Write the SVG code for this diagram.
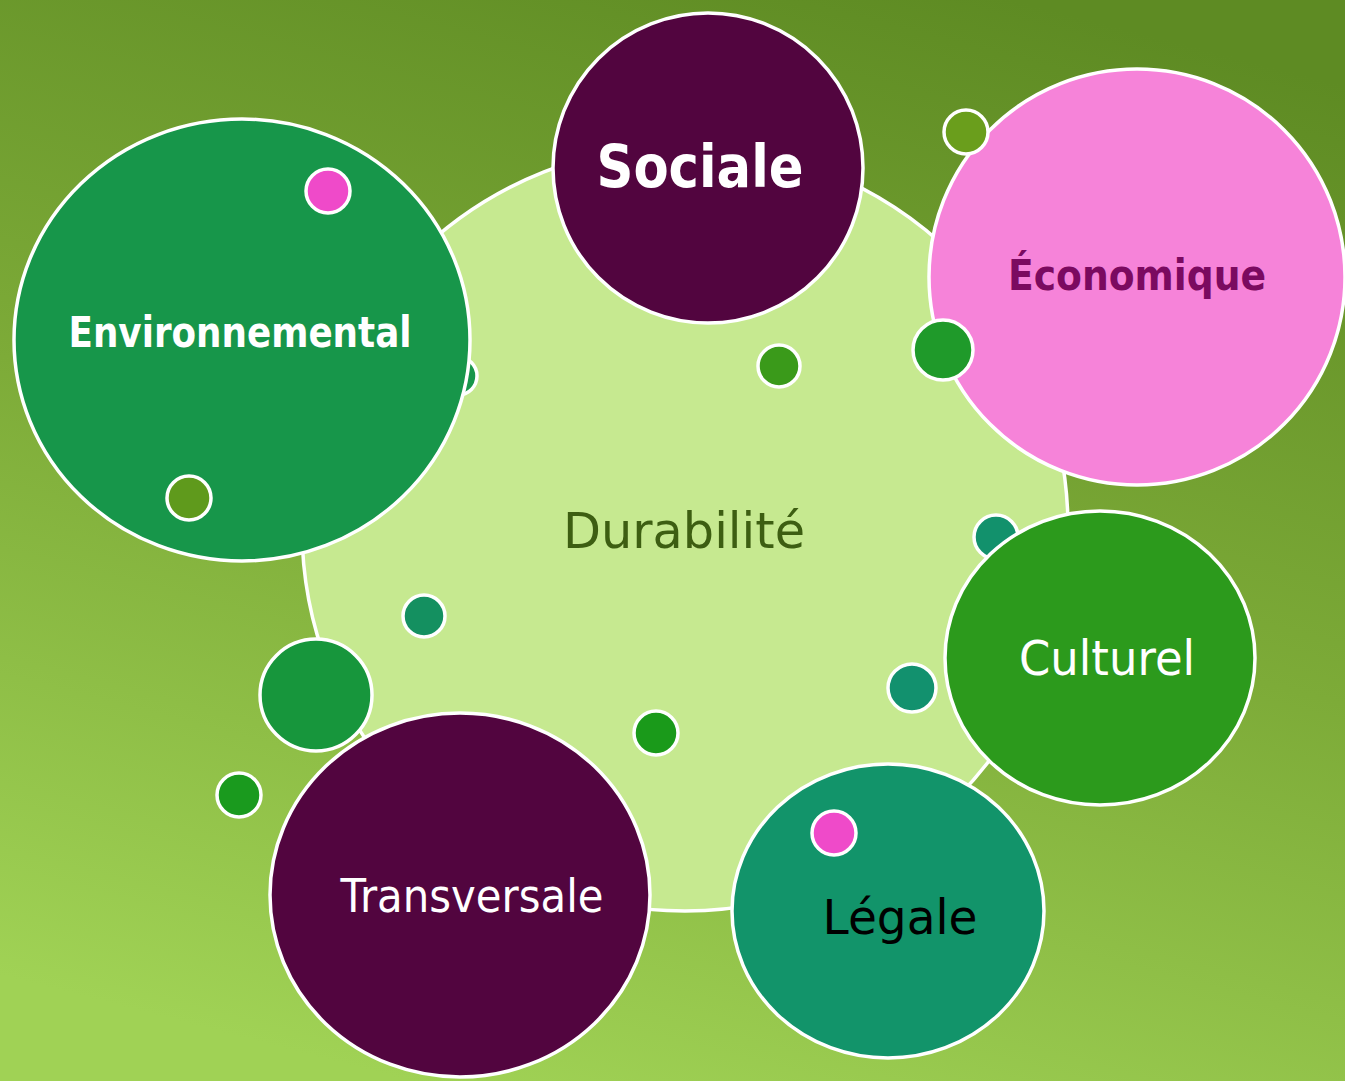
<svg xmlns="http://www.w3.org/2000/svg" width="1345" height="1081" viewBox="0 0 1345 1081">
  <defs>
    <linearGradient id="bg" gradientUnits="userSpaceOnUse" x1="860" y1="-40" x2="560" y2="1120">
      <stop offset="0" stop-color="#5e8b23"/>
      <stop offset="0.5" stop-color="#7dab38"/>
      <stop offset="1" stop-color="#a0d255"/>
    </linearGradient>
  </defs>
  <style>
    .c { stroke: #ffffff; stroke-width: 3.5; }
    .t { font-family: "DejaVu Sans", "Noto Sans", sans-serif; text-anchor: middle; }
    .b { font-weight: bold; }
  </style>
  <rect x="0" y="0" width="1345" height="1081" fill="url(#bg)"/>

  <g id="durabilite">
    <circle class="c" cx="685" cy="528" r="383" fill="#c6e990"/>
    <text class="t" x="684" y="548" font-size="50" fill="#3d5e12" textLength="242" lengthAdjust="spacingAndGlyphs">Durabilité</text>
  </g>

  <g id="small-behind">
    <circle class="c" cx="458" cy="376" r="19" fill="#17964a"/>
    <circle class="c" cx="996" cy="537" r="22" fill="#12916c"/>
  </g>

  <g id="sociale">
    <circle class="c" cx="708" cy="168" r="155" fill="#52053f"/>
    <text class="t b" x="700" y="187" font-size="58" fill="#ffffff" textLength="207" lengthAdjust="spacingAndGlyphs">Sociale</text>
  </g>

  <g id="economique">
    <circle class="c" cx="1137" cy="277" r="208" fill="#f683d9"/>
    <text class="t b" x="1137" y="290" font-size="42" fill="#7b0a60" textLength="258" lengthAdjust="spacingAndGlyphs">Économique</text>
  </g>

  <g id="environnemental">
    <ellipse class="c" cx="242" cy="340" rx="228" ry="221" fill="#17964a"/>
    <text class="t b" x="240" y="347" font-size="42" fill="#ffffff" textLength="343" lengthAdjust="spacingAndGlyphs">Environnemental</text>
  </g>

  <g id="dots-mid">
    <circle class="c" cx="779" cy="366" r="21" fill="#3a9a1a"/>
    <circle class="c" cx="424" cy="616" r="21" fill="#149060"/>
    <circle class="c" cx="316" cy="695" r="56" fill="#17963c"/>
    <circle class="c" cx="239" cy="795" r="22" fill="#1a9a1e"/>
    <circle class="c" cx="656" cy="733" r="22" fill="#1a9a1a"/>
    <circle class="c" cx="912" cy="688" r="24" fill="#12916e"/>
  </g>

  <g id="culturel">
    <ellipse class="c" cx="1100" cy="658" rx="155" ry="147" fill="#2c9a1c"/>
    <text class="t" x="1107" y="675" font-size="48" fill="#ffffff" textLength="176" lengthAdjust="spacingAndGlyphs">Culturel</text>
  </g>

  <g id="legale">
    <ellipse class="c" cx="888" cy="911" rx="156" ry="147" fill="#12946a"/>
    <text class="t" x="900" y="934" font-size="48" fill="#000000" textLength="155" lengthAdjust="spacingAndGlyphs">Légale</text>
  </g>

  <g id="transversale">
    <ellipse class="c" cx="460" cy="895" rx="190" ry="182" fill="#52053f"/>
    <text class="t" x="472" y="912" font-size="46" fill="#ffffff" textLength="263" lengthAdjust="spacingAndGlyphs">Transversale</text>
  </g>

  <g id="dots-top">
    <circle class="c" cx="328" cy="191" r="22" fill="#ef4ac9"/>
    <circle class="c" cx="189" cy="498" r="22" fill="#5f9a1c"/>
    <circle class="c" cx="943" cy="350" r="30" fill="#1f9a2a"/>
    <circle class="c" cx="966" cy="132" r="22" fill="#6a9e1c"/>
    <circle class="c" cx="834" cy="833" r="22" fill="#ef4ac9"/>
  </g>
</svg>
